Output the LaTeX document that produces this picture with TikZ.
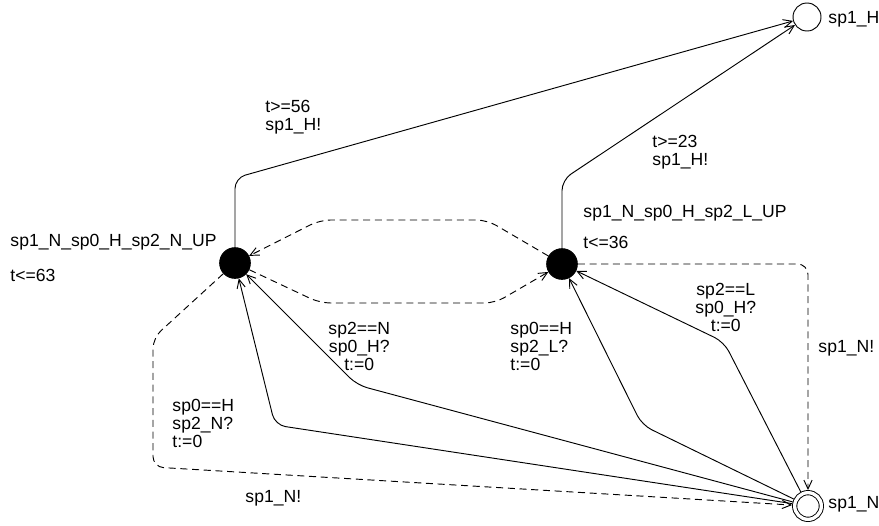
\documentclass[tikz,border=0pt]{standalone}
\usepackage{fontspec}
\setmainfont{Liberation Sans}
\usetikzlibrary{arrows.meta,positioning}
\tikzset{
	>={Straight Barb[length=7.5pt,width=7pt]},
	loc/.style={draw,circle,minimum size=0.84cm,inner sep=0pt},
	comm/.style={loc,fill=black,minimum size=0.92cm},
	init/.style={loc,double,double distance=0.1cm,minimum size=0.8cm,outer sep=0.08cm},
	lbl/.style={inner sep=0pt,anchor=west,align=left},
	clbl/.style={lbl,align=center},
	move/.style={->,rounded corners=9pt},
	send/.style={move,dash pattern=on 6pt off 4pt}
}
\begin{document}
\begin{tikzpicture}[x=0.03cm,y=-0.03cm,line width=0.8pt,font=\fontsize{15}{15.4}\selectfont]
			\useasboundingbox (0,0) rectangle (879,525);
			\node[comm] (nup) at (235,263) {};
			\node[comm] (lup) at (562,264) {};
			\node[loc] (h) at (807,17) {};
			\node[init] (n) at (808,506) {};
			\node[lbl] (hname) at (828,19) {sp1\_H};
			\node[lbl] (nname) at (828,504) {sp1\_N};
			\node[lbl] (nupname) at (10,242) {sp1\_N\_sp0\_H\_sp2\_N\_UP};
			\node[lbl] (nupinv) at (10,275) {t<=63};
			\node[lbl] (lupname) at (583,213) {sp1\_N\_sp0\_H\_sp2\_L\_UP};
			\node[lbl] (lupinv) at (583,242) {t<=36};
			
			\node[coordinate] (c1) at (235,178) {};
			\node[coordinate] (c2) at (562,180) {};
			\node[coordinate] (c3) at (487,220) {};
			\node[coordinate] (c4) at (320,220) {};
			\node[coordinate] (c5) at (320,303) {};
			\node[coordinate] (c6) at (495,303) {};
			\node[coordinate] (c7) at (808,264) {};
			\node[coordinate] (c8) at (153,338) {};
			\node[coordinate] (c9) at (153,467) {};
			\node[coordinate] (c10) at (357,385) {};
			\node[coordinate] (c11) at (275,425) {};
			\node[coordinate] (c12) at (642,425) {};
			\node[coordinate] (c13) at (724,342) {};
			
			\draw[move] (nup) -- (c1) -- (h);
			\draw[move] (lup) -- (c2) -- (h);
			\draw[send] (lup) -- (c3) -- (c4) -- (nup);
			\draw[send] (nup) -- (c5) -- (c6) -- (lup);
			\draw[send] (lup) -- (c7) -- (n);
			\draw[send] (nup) -- (c8) -- (c9) -- (n);
			\draw[move] (n) -- (c10) -- (nup);
			\draw[move] (n) -- (c11) -- (nup);
			\draw[move] (n) -- (c12) -- (lup);
			\draw[move] (n) -- (c13) -- (lup);
			
			\node[lbl] (g1) at (265,117) {t>=56\\sp1\_H!};
			\node[lbl] (g2) at (652,152) {t>=23\\sp1\_H!};
			\node[clbl] (g3) at (328,346) {sp2==N\\sp0\_H?\\t:=0};
			\node[lbl] (g4) at (510,346) {sp0==H\\sp2\_L?\\t:=0};
			\node[lbl] (g5) at (172,423) {sp0==H\\sp2\_N?\\t:=0};
			\node[clbl] (g6) at (695,307) {sp2==L\\sp0\_H?\\t:=0};
			\node[lbl] (s1) at (818,348) {sp1\_N!};
			\node[lbl] (s2) at (245,498) {sp1\_N!};
		\end{tikzpicture}
\end{document}
